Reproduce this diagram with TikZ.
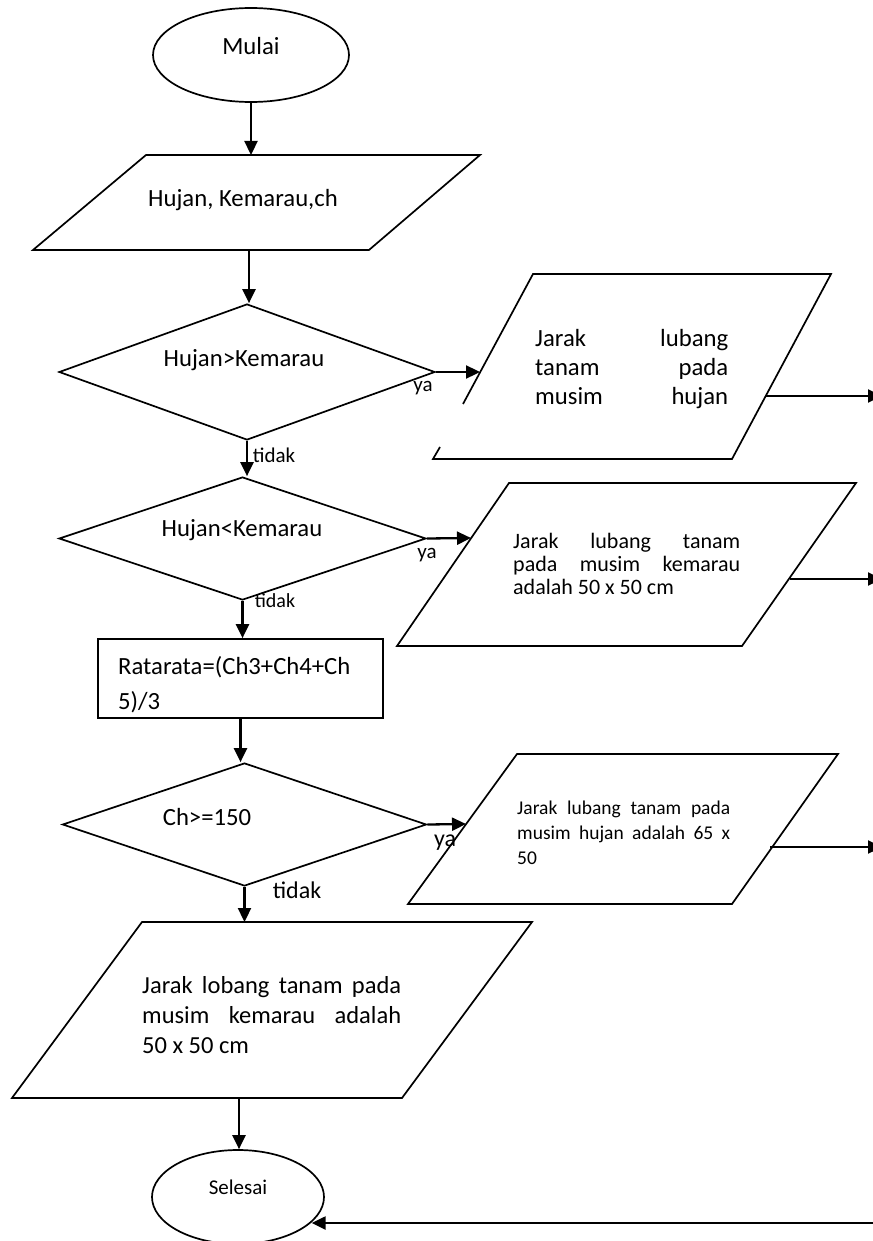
\documentclass[tikz,border=0pt]{standalone}
\usepackage{fontspec}
\setmainfont{Carlito}
\usetikzlibrary{arrows.meta,shapes.geometric}
% one justified line of a given width
\newcommand\jl[2]{\hbox to #1{#2}}
\begin{document}
\begin{tikzpicture}[x=1pt,y=-1pt,
  outline/.style={draw, line width=1.7pt},
  term/.style={outline, ellipse, inner sep=0pt},
  dec/.style={outline, diamond, inner sep=0pt},
  proc/.style={outline, rectangle, inner sep=0pt},
  arr/.style={line width=2.3pt, -{Triangle[length=14pt,width=13pt]}},
  txt/.style={inner sep=0pt, font=\fontsize{24.7}{29}\selectfont},
  lbl/.style={inner sep=0pt, font=\fontsize{21}{25}\selectfont},
  block/.style={inner sep=0pt, anchor=west, align=left}]
\useasboundingbox (0,0) rectangle (872,1241);

% start
\node[term, minimum width=196pt, minimum height=94pt] (mulai) at (251,55) {};
\node[txt] (tMulai) at (251,46) {Mulai};

% input
\draw[outline] (33,250) -- (146,155) -- (480,155) -- (369,250) -- cycle;
\coordinate (p1t) at (251,155);
\coordinate (p1b) at (249,250);
\node[txt] (tIn) at (243,200) {Hujan, Kemarau,ch};
\draw[arr] (mulai.south) -- (p1t);

% first decision
\node[dec, minimum width=376pt, minimum height=136pt] (d1) at (247,372) {};
\node[txt] (tD1) at (244,360) {Hujan>Kemarau};
\draw[arr] (p1b) -- (p1b |- d1.north);

% output: rainy season
\draw[outline] (463,404) -- (533,274) -- (831,274) -- (732,459) -- (433,459) -- (440,447);
\coordinate (p2in) at (480,372);
\coordinate (p2out) at (766,396);
\coordinate (e2) at (882,396);
\node[block, font=\fontsize{24.7}{29}\selectfont] (tP2) at (535,369)
  {\jl{193pt}{Jarak\hfill lubang}\\\jl{193pt}{tanam\hfill pada}\\\jl{193pt}{musim\hfill hujan}};
\draw[arr] (d1.east) -- (p2in);
\node[lbl] (ya1) at (423,388) {ya};
\draw[arr] (p2out) -- (e2);

% second decision
\node[dec, minimum width=367pt, minimum height=123pt] (d2) at (242.5,538.5) {};
\node[txt] (tD2) at (242,530) {Hujan<Kemarau};
\draw[arr] (d1.south) -- (d1.south |- d2.north);
\node[lbl] (no1) at (274,455) {tidak};

% output: dry season
\draw[outline] (397,646) -- (509,483) -- (856,483) -- (742,646) -- cycle;
\coordinate (p3in) at (471,538);
\coordinate (p3out) at (790,579);
\coordinate (e3) at (882,579);
\node[block, font=\fontsize{22}{23}\selectfont] (tP3) at (513,564)
  {\jl{227pt}{Jarak\hfill lubang\hfill tanam}\\\jl{227pt}{pada\hfill musim\hfill kemarau}\\adalah 50 x 50 cm};
\draw[arr] (d2.east) -- (p3in);
\node[lbl] (ya2) at (427,555) {ya};
\draw[arr] (p3out) -- (e3);

% average
\node[proc, minimum width=285pt, minimum height=79pt] (calc) at (240.5,678.5) {};
\node[block, font=\fontsize{24.7}{35}\selectfont] (tCalc) at (118,684.5) {Ratarata=(Ch3+Ch4+Ch\\5)/3};
\draw[arr] (d2.south) -- (d2.south |- calc.north);
\node[lbl, font=\fontsize{20}{24}\selectfont] (no2) at (275,601) {tidak};

% third decision
\node[dec, minimum width=364pt, minimum height=123pt] (d3) at (244.5,824.5) {};
\node[txt] (tD3) at (207,817) {Ch>=150};
\draw[arr] (calc.south) -- (calc.south |- d3.north);

% output: planting distance 65 x 50
\draw[outline] (408,904) -- (517,754) -- (838,754) -- (732,904) -- cycle;
\coordinate (p4in) at (466,824);
\coordinate (p4out) at (770,847);
\coordinate (e4) at (882,847);
\node[block, font=\fontsize{19.5}{25}\selectfont] (tP4) at (517,833)
  {\jl{213pt}{Jarak\hfill lubang\hfill tanam\hfill pada}\\\jl{213pt}{musim\hfill hujan\hfill adalah\hfill 65\hfill x}\\50};
\draw[arr] (d3.east) -- (p4in);
\node[lbl, font=\fontsize{24}{28}\selectfont] (ya3) at (445,843) {ya};
\draw[arr] (p4out) -- (e4);

% output: planting distance 50 x 50
\draw[outline] (12,1098) -- (142,922) -- (532,922) -- (402,1098) -- cycle;
\coordinate (p5t) at (244,922);
\coordinate (p5b) at (239,1098);
\node[block, font=\fontsize{24.5}{30}\selectfont] (tP5) at (142,1015)
  {\jl{259pt}{Jarak\hfill lobang\hfill tanam\hfill pada}\\\jl{259pt}{musim\hfill kemarau\hfill adalah}\\50 x 50 cm};
\draw[arr] (d3.south) -- (d3.south |- p5t);
\node[lbl, font=\fontsize{24}{28}\selectfont] (no3) at (297,890) {tidak};

% end
\node[term, minimum width=172pt, minimum height=94pt] (sel) at (238,1197) {};
\node[lbl] (tSel) at (238,1187) {Selesai};
\draw[arr] (p5b) -- (p5b |- sel.north);
\coordinate (back) at (900,1223);
\draw[arr] (back) -- (back -| sel.-19);
\end{tikzpicture}
\end{document}
